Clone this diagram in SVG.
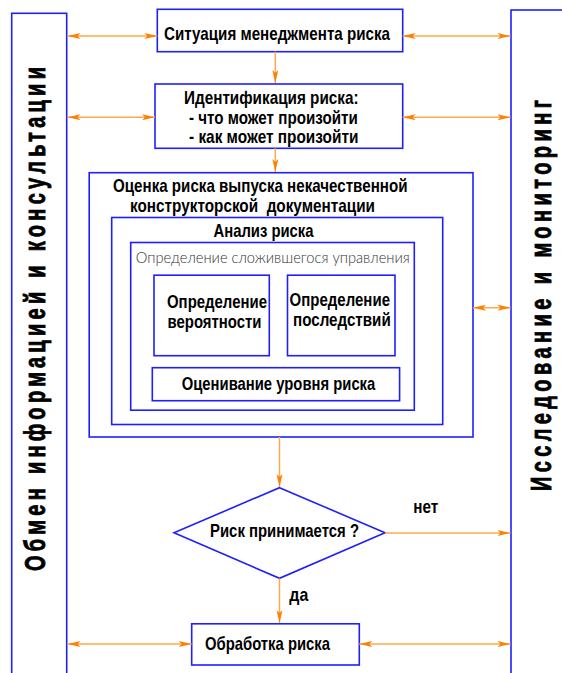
<svg xmlns="http://www.w3.org/2000/svg" width="562" height="673" viewBox="0 0 562 673">
<style>
.box{fill:none;stroke:#1e1eff;stroke-width:1.6}
.t{font-family:"Liberation Sans Narrow","Liberation Sans",Arial,sans-serif;font-weight:bold;font-size:18.5px;fill:#000}
.thin{font-family:Lato,"Open Sans","Liberation Sans",sans-serif;font-weight:300;font-size:15px;fill:#333}
.side{font-family:"Liberation Sans",Arial,sans-serif;font-weight:bold;font-size:20px;fill:#000;stroke:#000;stroke-width:0.6}
.c{stroke:#ffa850;stroke-width:1.5;fill:none}
</style>
<defs>
<marker id="ah" viewBox="-14 -4 15 8" refX="0" refY="0" markerWidth="15" markerHeight="8" markerUnits="userSpaceOnUse" orient="auto-start-reverse">
<path d="M0,0 L-13,-3 L-10,0 L-13,3 Z" fill="#ff8000"/>
</marker>
</defs>
<rect width="562" height="673" fill="#fff"/>

<g id="left-bar">
<rect class="box" x="11.7" y="13.3" width="55" height="700"/>
<text class="side" transform="translate(45,571) rotate(-90) scale(1,1.45)" textLength="504" lengthAdjust="spacing">Обмен информацией и консультации</text>
</g>
<g id="right-bar">
<rect class="box" x="511" y="10" width="80" height="700"/>
<text class="side" transform="translate(551,491) rotate(-90) scale(1,1.45)" textLength="391" lengthAdjust="spacing">Исследование и мониторинг</text>
</g>

<g id="situation">
<rect class="box" x="157.3" y="9.3" width="245.4" height="42.4"/>
<text class="t" x="164" y="40" textLength="226" lengthAdjust="spacingAndGlyphs">Ситуация менеджмента риска</text>
</g>
<g id="identification">
<rect class="box" x="155" y="84" width="247.7" height="64.3"/>
<text class="t" x="184" y="104.3" textLength="174.5" lengthAdjust="spacingAndGlyphs">Идентификация риска:</text>
<text class="t" x="189" y="124" textLength="168.7" lengthAdjust="spacingAndGlyphs">- что может произойти</text>
<text class="t" x="189" y="143.3" textLength="169.4" lengthAdjust="spacingAndGlyphs">- как может произойти</text>
</g>
<g id="assessment">
<rect class="box" x="89.2" y="172.7" width="383.8" height="264.3"/>
<text class="t" x="113" y="192.3" textLength="294.5" lengthAdjust="spacingAndGlyphs">Оценка риска выпуска некачественной</text>
<text class="t" x="130" y="211.7" textLength="245" lengthAdjust="spacingAndGlyphs" xml:space="preserve">конструкторской  документации</text>
</g>
<g id="analysis">
<rect class="box" x="111.7" y="217.5" width="331" height="207"/>
<text class="t" x="213.5" y="237.3" textLength="100" lengthAdjust="spacingAndGlyphs">Анализ риска</text>
</g>
<g id="controls">
<rect class="box" x="130.7" y="242.5" width="283.6" height="167.7"/>
<text class="thin" x="135.8" y="263.3" textLength="274" lengthAdjust="spacingAndGlyphs">Определение сложившегося управления</text>
</g>
<g id="probability">
<rect class="box" x="154" y="275.2" width="115.3" height="80.5"/>
<text class="t" x="167" y="307.5" textLength="100" lengthAdjust="spacingAndGlyphs">Определение</text>
<text class="t" x="167.5" y="327.5" textLength="94" lengthAdjust="spacingAndGlyphs">вероятности</text>
</g>
<g id="consequences">
<rect class="box" x="287.5" y="275.2" width="107.5" height="80.5"/>
<text class="t" x="289.6" y="305.7" textLength="100.4" lengthAdjust="spacingAndGlyphs">Определение</text>
<text class="t" x="293" y="325.7" textLength="97.7" lengthAdjust="spacingAndGlyphs">последствий</text>
</g>
<g id="evaluation">
<rect class="box" x="152.3" y="367.7" width="247.3" height="33"/>
<text class="t" x="181.7" y="390" textLength="193.6" lengthAdjust="spacingAndGlyphs">Оценивание уровня риска</text>
</g>
<g id="decision">
<polygon class="box" points="279.5,487.7 385,532.7 279.5,578.3 174,532.7"/>
<text class="t" x="210" y="536.7" textLength="149" lengthAdjust="spacingAndGlyphs">Риск принимается ?</text>
</g>
<g id="treatment">
<rect class="box" x="191.7" y="623.8" width="167.6" height="41.2"/>
<text class="t" x="205" y="650" textLength="125" lengthAdjust="spacingAndGlyphs">Обработка риска</text>
</g>

<g id="connectors">
<line class="c" x1="67.5" y1="36" x2="157.3" y2="36" marker-start="url(#ah)" marker-end="url(#ah)"/>
<line class="c" x1="402.7" y1="36" x2="510.5" y2="36" marker-start="url(#ah)" marker-end="url(#ah)"/>
<line class="c" x1="67.5" y1="117.3" x2="155" y2="117.3" marker-start="url(#ah)" marker-end="url(#ah)"/>
<line class="c" x1="402.7" y1="117.3" x2="510.5" y2="117.3" marker-start="url(#ah)" marker-end="url(#ah)"/>
<line class="c" x1="473" y1="307.7" x2="510.5" y2="307.7" marker-start="url(#ah)" marker-end="url(#ah)"/>
<line class="c" x1="67.5" y1="644" x2="191.7" y2="644" marker-start="url(#ah)" marker-end="url(#ah)"/>
<line class="c" x1="359.3" y1="644" x2="510.5" y2="644" marker-start="url(#ah)" marker-end="url(#ah)"/>
<line class="c" x1="275.3" y1="51.7" x2="275.3" y2="83" marker-end="url(#ah)"/>
<line class="c" x1="275.3" y1="148.3" x2="275.3" y2="172" marker-end="url(#ah)"/>
<line class="c" x1="279.5" y1="437" x2="279.5" y2="487" marker-end="url(#ah)"/>
<line class="c" x1="385" y1="533" x2="510.5" y2="533" marker-end="url(#ah)"/>
<line class="c" x1="279.5" y1="578.3" x2="279.5" y2="623" marker-end="url(#ah)"/>
<text class="t" x="413.3" y="512.7" textLength="25" lengthAdjust="spacingAndGlyphs">нет</text>
<text class="t" x="289.3" y="600.5" textLength="19" lengthAdjust="spacingAndGlyphs">да</text>
</g>
</svg>
